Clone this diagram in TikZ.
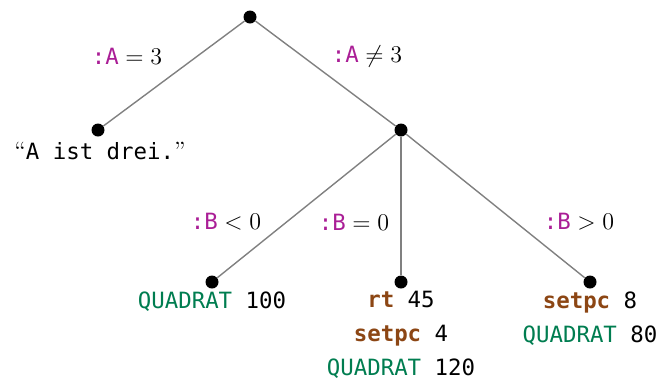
\documentclass[tikz,border=0pt]{standalone}
\usepackage{amsmath,amssymb}
\usepackage{fontspec}
\setmonofont[Scale=1.12]{DejaVu Sans Mono}
\usepackage{xcolor}
\usetikzlibrary{positioning}
\definecolor{varcol}{RGB}{170,30,150}
\definecolor{cmdcol}{RGB}{0,125,80}
\definecolor{kwcol}{RGB}{140,70,20}
\newcommand{\var}[1]{\textcolor{varcol}{\texttt{\fontsize{10}{12}\selectfont:#1}}}
\newcommand{\cmd}[1]{\textcolor{cmdcol}{\texttt{#1}}}
\newcommand{\kw}[1]{\textcolor{kwcol}{\texttt{\bfseries #1}}}
\newcommand{\quo}[1]{{\rmfamily\fontsize{12.5}{15}\selectfont#1}}
\tikzset{
  knot/.style={circle,fill=black,inner sep=0pt,minimum size=6.5pt},
  edge/.style={draw=gray,line width=0.7pt},
  cond/.style={font=\fontsize{12.5}{15}\selectfont},
  leaf/.style={font=\ttfamily,align=center,inner sep=0pt}
}

\begin{document}
\begin{tikzpicture}[x=0.5pt,y=-0.5pt]
\useasboundingbox (0,0) rectangle (659,381);
%\draw[help lines](0,0) grid (659,381);
\node[knot] (r) at (250,17) {};
\node[knot] (a) at (98,130) {};
\node[knot] (b) at (401,130) {};
\node[knot] (b1) at (212,282) {};
\node[knot] (b2) at (401,282) {};
\node[knot] (b3) at (590,282) {};
\draw[edge] (r)--(a);
\draw[edge] (r)--(b);
\draw[edge] (b)--(b1);
\draw[edge] (b)--(b2);
\draw[edge] (b)--(b3);
\node[cond] (la) at (127,56) {$\var{A}=3$};
\node[cond] (lb) at (367,56) {$\var{A}\neq3$};
\node[cond] (lb1) at (226,222) {$\var{B}<0$};
\node[cond] (lb2) at (354,222) {$\var{B}=0$};
\node[cond] (lb3) at (579,222) {$\var{B}>0$};
\node[leaf,anchor=north] (ta) at (100,142) {\quo{``}A ist drei.\quo{''}};
\node[leaf,anchor=north] (t1) at (212,291) {\cmd{QUADRAT} 100};
\node[leaf,anchor=north] (t2) at (401,291) {\kw{rt} 45\\[5pt]\kw{setpc} 4\\[5pt]\cmd{QUADRAT} 120};
\node[leaf,anchor=north] (t3) at (590,291) {\kw{setpc} 8\\[5pt]\cmd{QUADRAT} 80};
\end{tikzpicture}
\end{document}
